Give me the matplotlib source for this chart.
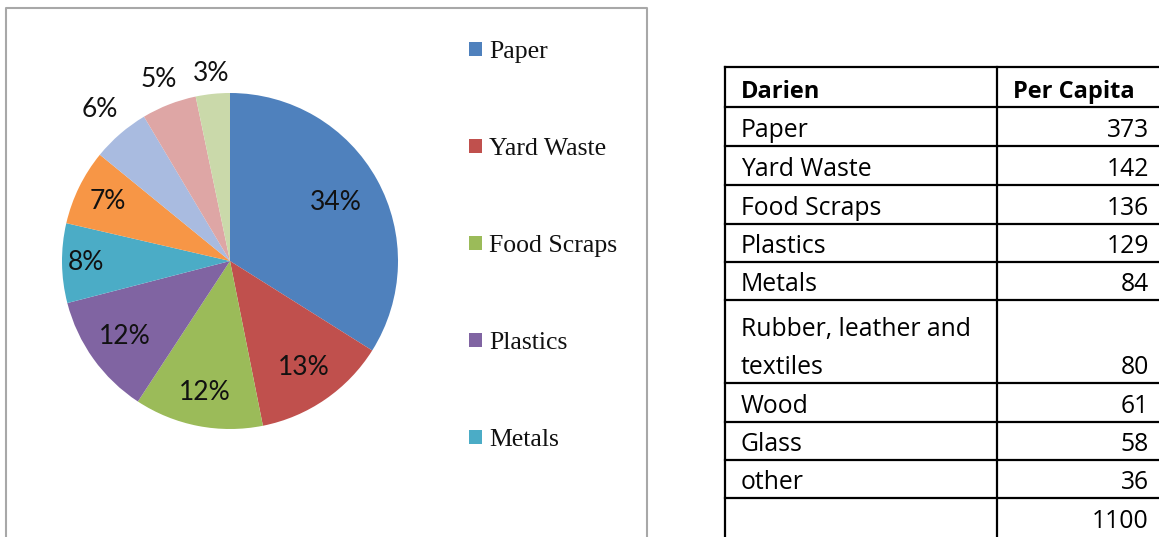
import numpy as np
import matplotlib.pyplot as plt
from matplotlib.lines import Line2D

W, H = 1159, 537

# Darien per-capita waste composition
materials = ['Paper', 'Yard Waste', 'Food Scraps', 'Plastics', 'Metals',
             'Rubber, leather and textiles', 'Wood', 'Glass', 'other']
per_capita = [373, 142, 136, 129, 84, 80, 61, 58, 36]
total_per_capita = 1100

table_header = ['Darien', 'Per Capita']
table_names = ['Paper', 'Yard Waste', 'Food Scraps', 'Plastics', 'Metals',
               'Rubber, leather and\ntextiles', 'Wood', 'Glass', 'other', '']
table_values = per_capita + [total_per_capita]

colors = ['#4F81BD', '#C0504D', '#9BBB59', '#8064A2', '#4BACC6',
          '#F79646', '#A9BBE0', '#DEA6A5', '#CAD9AA']
# radial position of each percentage label, as a fraction of the radius
label_dist = [0.72, 0.77, 0.80, 0.77, 0.86, 0.81, 1.19, 1.16, 1.12]

fig = plt.figure(figsize=(W / 100, H / 100), dpi=100)
ax = fig.add_axes([0, 0, 1, 1])

# pie in pixel coordinates, y axis flipped (origin top-left), so
# counterclockwise in data space reads clockwise on screen
cx, cy, r = 230, 261, 168
wedges, _ = ax.pie(per_capita, colors=colors, startangle=-90,
                   counterclock=True, center=(cx, cy), radius=r,
                   frame=True, wedgeprops=dict(linewidth=0))
ax.set_xlim(0, W)
ax.set_ylim(H, 0)
ax.set_aspect('auto')
ax.axis('off')

tot = sum(per_capita)
for w, v, d in zip(wedges, per_capita, label_dist):
    a = np.deg2rad((w.theta1 + w.theta2) / 2)
    ax.text(cx + d * r * np.cos(a), cy + d * r * np.sin(a),
            f'{100 * v / tot:.0f}%', ha='center', va='center',
            fontsize=19, family='Lato', color='#111111')

# chart frame (bottom edge runs past the image)
ax.add_line(Line2D([6, 6, 647, 647], [H + 5, 8, 8, H + 5],
                   color='#A8A8A8', lw=1.5))

# legend shows only the first five categories
leg = ax.legend(wedges[:5], materials[:5], loc='upper left',
                bbox_to_anchor=(469 / W, 1 - 41 / H), frameon=False,
                prop=dict(family='Liberation Serif', size=18.5),
                handlelength=0.5, handleheight=0.5, handletextpad=0.27,
                labelspacing=2.92, borderpad=0, borderaxespad=0)
for t in leg.get_texts():
    t.set_color('#111111')

# table on the right
row_edges = [67, 107, 146, 185, 224, 262, 300, 383, 422, 460, 498, H + 5]
x_left, x_mid, x_right = 725, 997, W + 5
for y in row_edges[:-1]:
    ax.add_line(Line2D([x_left, x_right], [y, y], color='black', lw=1.6))
for x in (x_left, x_mid):
    ax.add_line(Line2D([x, x], [row_edges[0], row_edges[-1]],
                       color='black', lw=1.6))

tfont = dict(family='Open Sans', color='black')
ax.text(741, row_edges[1] - 9, table_header[0], va='baseline',
        fontweight='bold', size=17, **tfont)
ax.text(1013, row_edges[1] - 9, table_header[1], va='baseline',
        fontweight='bold', size=17, **tfont)
for i, (name, val) in enumerate(zip(table_names, table_values)):
    base = row_edges[i + 2] - 9 if i + 2 < len(row_edges) - 1 else row_edges[i + 1] + 30
    lines = name.split('\n')
    for k, ln in enumerate(reversed(lines)):
        ax.text(741, base - 38 * k, ln, va='baseline', size=17.8, **tfont)
    ax.text(1149, base, str(val), va='baseline', ha='right', size=17.8, **tfont)

fig.savefig('out.png', dpi=100)
